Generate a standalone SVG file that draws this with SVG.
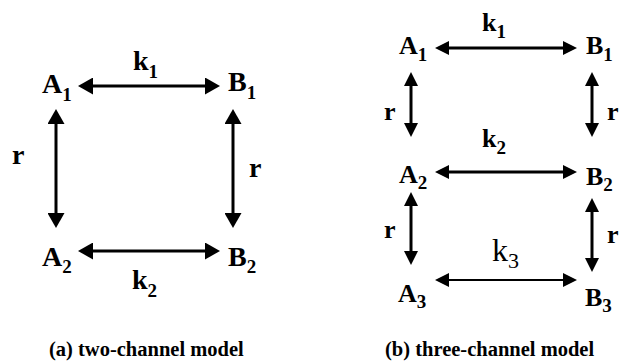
<svg xmlns="http://www.w3.org/2000/svg" width="619" height="362" viewBox="0 0 619 362" font-family="Liberation Serif, DejaVu Serif, serif">
<style>
text{fill:#000}
.n{font-weight:bold;font-size:28px}
.m{font-weight:bold;font-size:26px}
.s{font-size:19px}
.reg{font-weight:normal;font-size:32px}
.cap{font-weight:bold;font-size:20.5px}
.c{stroke:#000;stroke-width:3;fill:none}
.t{stroke:#000;stroke-width:2.2;fill:none}
</style>
<defs>
<marker id="ahL" markerUnits="userSpaceOnUse" markerWidth="16" markerHeight="17" refX="5" refY="8.5" orient="auto-start-reverse"><path d="M0,0 L15,8.5 L0,17 z" fill="#000"/></marker>
<marker id="ahR" markerUnits="userSpaceOnUse" markerWidth="15" markerHeight="14" refX="4" refY="7" orient="auto-start-reverse"><path d="M0,0 L14,7 L0,14 z" fill="#000"/></marker>
</defs>
<rect width="619" height="362" fill="#fff"/>
<g id="connectors">
<line class="c" x1="88" y1="86" x2="210" y2="86" marker-start="url(#ahL)" marker-end="url(#ahL)"/>
<line class="c" x1="56" y1="119" x2="56" y2="218" marker-start="url(#ahL)" marker-end="url(#ahL)"/>
<line class="c" x1="233" y1="119" x2="233" y2="218" marker-start="url(#ahL)" marker-end="url(#ahL)"/>
<line class="c" x1="88" y1="251" x2="210" y2="251" marker-start="url(#ahL)" marker-end="url(#ahL)"/>
<line class="c" x1="445" y1="48" x2="567" y2="48" marker-start="url(#ahR)" marker-end="url(#ahR)"/>
<line class="c" x1="411" y1="82" x2="411" y2="127" marker-start="url(#ahR)" marker-end="url(#ahR)"/>
<line class="c" x1="592" y1="82" x2="592" y2="127" marker-start="url(#ahR)" marker-end="url(#ahR)"/>
<line class="c" x1="445" y1="172" x2="567" y2="172" marker-start="url(#ahR)" marker-end="url(#ahR)"/>
<line class="c" x1="411" y1="202" x2="411" y2="255" marker-start="url(#ahR)" marker-end="url(#ahR)"/>
<line class="c" x1="592" y1="208" x2="592" y2="262" marker-start="url(#ahR)" marker-end="url(#ahR)"/>
<line class="t" x1="445" y1="280" x2="567" y2="280" marker-start="url(#ahR)" marker-end="url(#ahR)"/>
</g>
<g id="a-labels">
<g id="a-k1"><text class="n" x="133" y="70">k<tspan class="s" dy="8">1</tspan></text></g>
<g id="a-r1"><text class="n" x="12" y="164">r</text></g>
<g id="a-r2"><text class="n" x="249" y="177">r</text></g>
<g id="a-k2"><text class="n" x="132" y="289">k<tspan class="s" dy="8">2</tspan></text></g>
</g>
<g id="a-A1"><text class="n" x="42" y="93">A<tspan class="s" dy="8">1</tspan></text></g>
<g id="a-B1"><text class="n" x="228" y="91">B<tspan class="s" dy="8">1</tspan></text></g>
<g id="a-A2"><text class="n" x="42" y="266">A<tspan class="s" dy="7">2</tspan></text></g>
<g id="a-B2"><text class="n" x="228" y="266">B<tspan class="s" dy="7">2</tspan></text></g>
<g id="b-labels">
<g id="b-k1"><text class="m" x="482" y="31">k<tspan class="s" dy="7">1</tspan></text></g>
<g id="b-r1"><text class="m" x="384" y="120">r</text></g>
<g id="b-r2"><text class="m" x="607" y="120">r</text></g>
<g id="b-k2"><text class="m" x="482" y="147">k<tspan class="s" dy="7">2</tspan></text></g>
<g id="b-r3"><text class="m" x="384" y="238">r</text></g>
<g id="b-r4"><text class="m" x="607" y="243">r</text></g>
<g id="b-k3"><text class="reg" x="492" y="261">k<tspan style="font-size:22px" dy="7">3</tspan></text></g>
</g>
<g id="b-A1"><text class="m" x="399" y="54">A<tspan class="s" dy="7">1</tspan></text></g>
<g id="b-B1"><text class="m" x="586" y="54">B<tspan class="s" dy="7">1</tspan></text></g>
<g id="b-A2"><text class="m" x="399" y="183">A<tspan class="s" dy="6">2</tspan></text></g>
<g id="b-B2"><text class="m" x="586" y="185">B<tspan class="s" dy="6">2</tspan></text></g>
<g id="b-A3"><text class="m" x="398" y="302">A<tspan class="s" dy="6">3</tspan></text></g>
<g id="b-B3"><text class="m" x="585" y="306">B<tspan class="s" dy="6">3</tspan></text></g>
<g id="captions">
<text class="cap" x="49" y="356">(a) two-channel model</text>
<text class="cap" x="385" y="356">(b) three-channel model</text>
</g>
</svg>
